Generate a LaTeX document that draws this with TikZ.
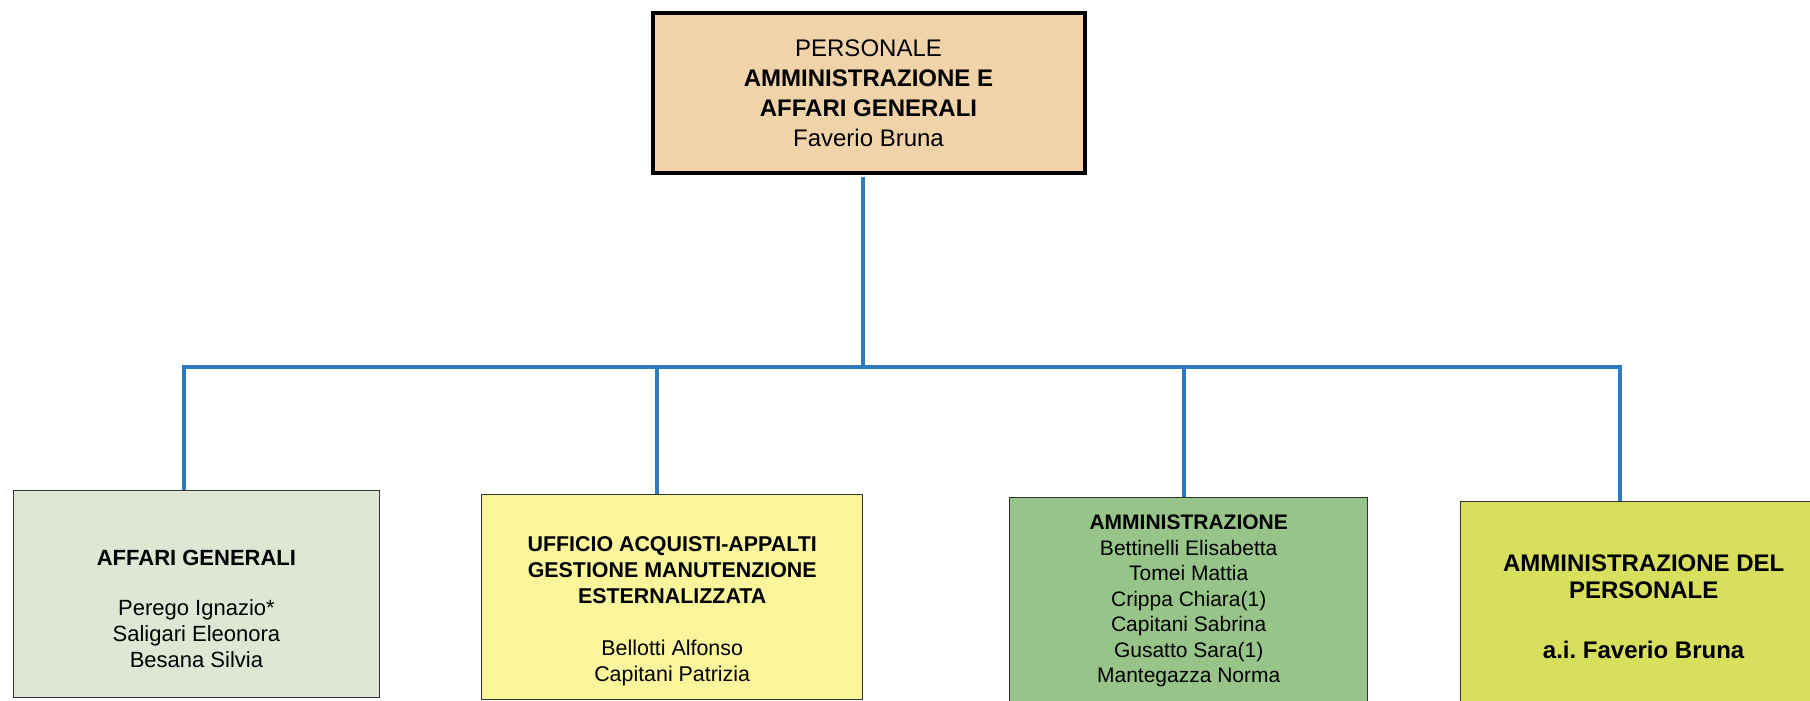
\documentclass[tikz,border=0pt]{standalone}
\usepackage{fontspec}
\setmainfont{Liberation Sans}
\usepackage{tikz}
\usetikzlibrary{
  calc,
  positioning
}
\definecolor{capofill}{RGB}{241,211,169}
\definecolor{affarifill}{RGB}{221,231,211}
\definecolor{acquistifill}{RGB}{251,246,156}
\definecolor{amminfill}{RGB}{151,196,136}
\definecolor{persfill}{RGB}{215,223,92}
\definecolor{linkblue}{RGB}{46,123,192}
\tikzset{
  orgbox/.style={draw=black!80,line width=0.7pt,anchor=north west,align=center,inner xsep=0pt,inner ysep=0pt},
  linkline/.style={draw=linkblue,line width=2.3pt}
}

\begin{document}
\begin{tikzpicture}[x=0.5pt,y=-0.5pt]
			\useasboundingbox (0,0) rectangle (1810,701);
			\clip (0,0) rectangle (1810,701);

			\node[orgbox,draw=black,line width=2pt,fill=capofill,minimum width=216pt,text height=66.5pt,text depth=13.25pt,font=\fontsize{12}{15}\selectfont] (boss) at (650.5,11.5) {PERSONALE\\\textbf{AMMINISTRAZIONE E}\\\textbf{AFFARI GENERALI}\\Faverio Bruna};

			\node[orgbox,fill=affarifill,minimum width=183.25pt,text height=88.5pt,text depth=15pt,font=\fontsize{11}{13}\selectfont] (affari) at (12.5,490) {\textbf{AFFARI GENERALI}\\[12pt]Perego Ignazio*\\Saligari Eleonora\\Besana Silvia};
			\node[orgbox,fill=acquistifill,minimum width=190.5pt,text height=93.5pt,text depth=9pt,font=\fontsize{10.7}{13}\selectfont] (acquisti) at (481,494) {\textbf{UFFICIO ACQUISTI-APPALTI}\\\textbf{GESTIONE MANUTENZIONE}\\\textbf{ESTERNALIZZATA}\\[13pt]Bellotti Alfonso\\Capitani Patrizia};
			\node[orgbox,fill=amminfill,minimum width=179pt,text height=92.5pt,text depth=13pt,font=\fontsize{10.5}{12.75}\selectfont] (ammin) at (1009,497) {\textbf{AMMINISTRAZIONE}\\Bettinelli Elisabetta\\Tomei Mattia\\Crippa Chiara(1)\\Capitani Sabrina\\Gusatto Sara(1)\\Mantegazza Norma};
			\node[orgbox,fill=persfill,minimum width=183pt,text height=78.5pt,text depth=27pt,font=\fontsize{12}{13.5}\selectfont] (persadm) at (1460,501) {\textbf{AMMINISTRAZIONE DEL}\\\textbf{PERSONALE}\\[16.5pt]\textbf{a.i.\ Faverio Bruna}};

			\coordinate (hub) at (863,367);
			\coordinate (barL) at (184,367);
			\coordinate (barR) at (1620,367);
			\coordinate (dropB) at (657,367);
			\coordinate (dropC) at (1184,367);

			\draw[linkline,shorten <=1pt] (boss.south -| hub) -- (hub);
			\draw[linkline] (affari.north -| barL) -- (barL) -- (barR) -- (persadm.north -| barR);
			\draw[linkline] (dropB) -- (acquisti.north -| dropB);
			\draw[linkline] (dropC) -- (ammin.north -| dropC);
		\end{tikzpicture}
\end{document}
